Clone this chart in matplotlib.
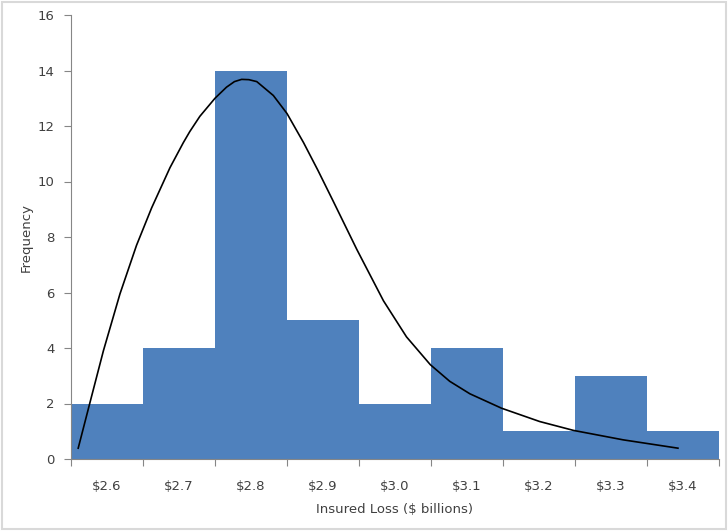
import matplotlib.pyplot as plt
from matplotlib.patches import Rectangle

# ---- histogram data ----
bin_centers = [2.6, 2.7, 2.8, 2.9, 3.0, 3.1, 3.2, 3.3, 3.4]
frequency = [2, 4, 14, 5, 2, 4, 1, 3, 1]
tick_labels = ["$2.6", "$2.7", "$2.8", "$2.9", "$3.0", "$3.1", "$3.2", "$3.3", "$3.4"]
bin_edges = [2.55, 2.65, 2.75, 2.85, 2.95, 3.05, 3.15, 3.25, 3.35, 3.45]

# ---- fitted curve, points ----
curve_x = [2.560, 2.576, 2.595, 2.618, 2.641, 2.662, 2.6875, 2.706, 2.715, 2.729,
           2.750, 2.766, 2.777, 2.787, 2.797, 2.808, 2.831, 2.850, 2.873, 2.893,
           2.914, 2.947, 2.984, 3.016, 3.049, 3.076, 3.104, 3.148, 3.201, 3.248,
           3.317, 3.393]
curve_y = [0.39, 2.00, 3.90, 5.95, 7.70, 9.05, 10.50, 11.40, 11.80, 12.35,
           13.00, 13.40, 13.60, 13.68, 13.67, 13.60, 13.10, 12.45, 11.40, 10.40,
           9.30, 7.55, 5.70, 4.40, 3.40, 2.80, 2.35, 1.83, 1.35, 1.03,
           0.69, 0.39]

BAR_COLOR = "#4F81BD"
AXIS_GRAY = "#868686"
TEXT_COLOR = "#404040"

plt.rcParams["font.family"] = ["DejaVu Sans"]

fig = plt.figure(figsize=(7.28, 5.31), dpi=100)
ax = fig.add_axes([71 / 728, 72 / 531, 648 / 728, 444 / 531])

ax.bar(bin_centers, frequency, width=0.1, color=BAR_COLOR, linewidth=0, zorder=2)
ax.plot(curve_x, curve_y, color="black", linewidth=1.2, zorder=3,
        solid_joinstyle="round")

ax.set_xlim(2.55, 3.45)
ax.set_ylim(0, 16)
ax.set_yticks(range(0, 17, 2))

# tick marks at bin edges, labels at bin centers
ax.set_xticks(bin_edges)
ax.set_xticklabels([])
ax.set_xticks(bin_centers, minor=True)
ax.set_xticklabels([t.replace("$", r"\$") for t in tick_labels], minor=True)
ax.tick_params(axis="x", which="minor", length=0, pad=15)
ax.tick_params(axis="x", which="major", length=5, color=AXIS_GRAY, direction="out")
ax.tick_params(axis="y", length=5, color=AXIS_GRAY, direction="out", pad=7)
ax.tick_params(which="both", labelsize=9.5, labelcolor=TEXT_COLOR)

for side in ["top", "right"]:
    ax.spines[side].set_visible(False)
for side in ["left", "bottom"]:
    ax.spines[side].set_color(AXIS_GRAY)

ax.set_xlabel(r"Insured Loss (\$ billions)", fontsize=9.5, color=TEXT_COLOR, labelpad=7)
ax.set_ylabel("Frequency", fontsize=9.5, color=TEXT_COLOR, labelpad=3)

# light chart-area border
fig.patches.append(Rectangle((0.003, 0.004), 0.994, 0.992, transform=fig.transFigure,
                             fill=False, edgecolor="#D9D9D9", linewidth=1.5))

fig.savefig("out.png", dpi=100)
